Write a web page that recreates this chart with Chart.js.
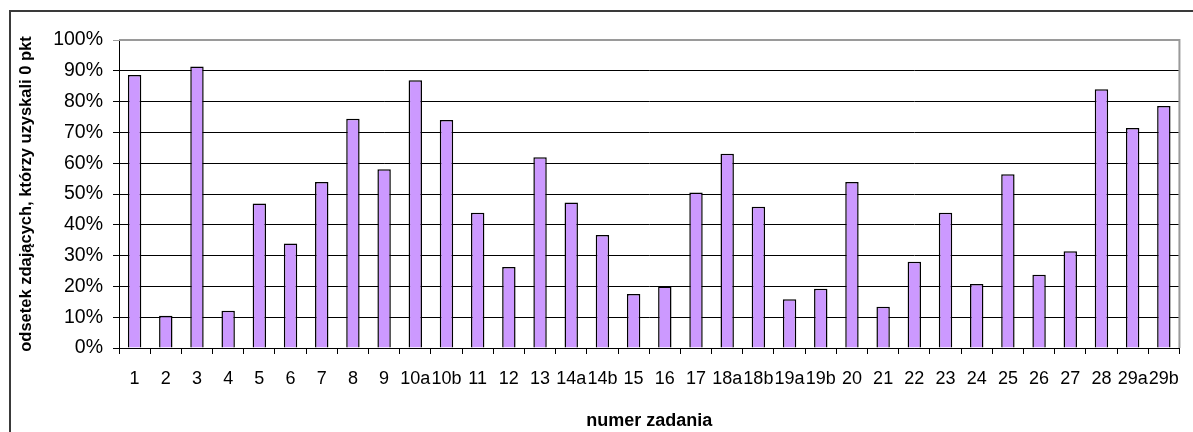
<!DOCTYPE html>
<html lang="pl">
<head>
  <meta charset="UTF-8" />
  <title>Odsetek zdających, którzy uzyskali 0 pkt</title>
  <script src="https://cdn.jsdelivr.net/npm/chart.js"></script>
  <style>
    body {
      margin: 0;
      background-color: #ffffff;
    }
    #wykres {
      display: block;
    }
  </style>
</head>
<body>
  <canvas id="wykres" width="1193" height="432"></canvas>

  <script>
    // numery zadań
    const zadania = ['1', '2', '3', '4', '5', '6', '7', '8', '9', '10a', '10b', '11', '12', '13',
      '14a', '14b', '15', '16', '17', '18a', '18b', '19a', '19b', '20', '21', '22', '23', '24',
      '25', '26', '27', '28', '29a', '29b'];

    // odsetek zdających z wynikiem 0 pkt (%)
    const odsetekZero = [88.6, 10.5, 91.4, 12.1, 46.9, 33.9, 53.9, 74.4, 58.0, 86.9, 74.0, 43.9,
      26.3, 61.9, 47.2, 36.7, 17.5, 20.0, 50.5, 63.1, 45.9, 15.8, 19.2, 53.9, 13.4, 28.0, 43.9,
      20.8, 56.4, 23.8, 31.4, 84.0, 71.4, 78.6];

    const osY = { min: 0, max: 100, krok: 10 };

    const czcionka = "'Liberation Sans', Arial, sans-serif";

    // ramka wykresu i obszaru kreślenia
    const ramki = {
      id: 'ramki',
      beforeDraw(chart) {
        const ctx = chart.ctx;
        ctx.save();
        ctx.fillStyle = '#3a3a3a';
        ctx.fillRect(9, 10, 2, chart.height - 10);
        ctx.fillRect(9, 10, chart.width - 9, 2);
        ctx.restore();
      },
      afterDatasetsDraw(chart) {
        const { ctx, chartArea } = chart;
        ctx.save();
        ctx.strokeStyle = '#9a9a9a';
        ctx.lineWidth = 2;
        ctx.beginPath();
        ctx.moveTo(chartArea.left, chartArea.top);
        ctx.lineTo(chartArea.right, chartArea.top);
        ctx.lineTo(chartArea.right, chartArea.bottom);
        ctx.stroke();
        ctx.restore();
      }
    };

    new Chart(document.getElementById('wykres'), {
      type: 'bar',
      data: {
        labels: zadania,
        datasets: [{
          data: odsetekZero,
          backgroundColor: '#cc99ff',
          borderColor: '#000000',
          borderWidth: 1.5,
          categoryPercentage: 1,
          barPercentage: 0.43
        }]
      },
      options: {
        responsive: false,
        animation: false,
        layout: {
          padding: { top: 40, right: 10, left: 0, bottom: 0 }
        },
        plugins: {
          legend: { display: false },
          tooltip: { enabled: false }
        },
        scales: {
          x: {
            afterFit: scale => { scale.height = 84; },
            grid: {
              offset: true,
              drawOnChartArea: false,
              drawTicks: true,
              tickLength: 6,
              color: '#000000'
            },
            border: { color: '#000000', width: 1 },
            ticks: {
              color: '#000000',
              padding: 14,
              maxRotation: 0,
              autoSkip: false,
              font: { family: czcionka, size: 18 }
            },
            title: {
              display: true,
              text: 'numer zadania',
              color: '#000000',
              padding: { top: 0, bottom: 0 },
              font: { family: czcionka, size: 18, weight: 'bold' }
            }
          },
          y: {
            min: osY.min,
            max: osY.max,
            afterFit: scale => { scale.width = 119; },
            grid: {
              color: ctx => (ctx.tick && ctx.tick.value === osY.max ? '#9a9a9a' : '#000000'),
              tickLength: 6,
              drawTicks: true
            },
            border: { color: '#000000', width: 1 },
            ticks: {
              stepSize: osY.krok,
              color: '#000000',
              padding: 10,
              font: { family: czcionka, size: 19.5 },
              callback: value => value + '%'
            },
            title: {
              display: true,
              text: 'odsetek zdających, którzy uzyskali 0 pkt',
              color: '#000000',
              padding: { top: 17, bottom: 0 },
              font: { family: czcionka, size: 16.5, weight: 'bold' }
            }
          }
        }
      },
      plugins: [ramki]
    });
  </script>
</body>
</html>
